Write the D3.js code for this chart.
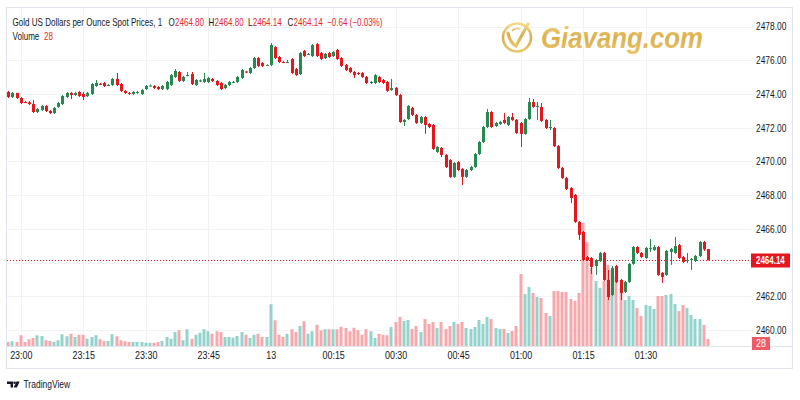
<!DOCTYPE html>
<html>
<head>
<meta charset="utf-8">
<script src="https://cdn.jsdelivr.net/npm/d3@7/dist/d3.min.js"></script>
<style>
html,body{margin:0;padding:0;background:#fff;}
svg{display:block;}
</style>
</head>
<body>
<svg id="chart" width="800" height="400"></svg>
<script>
// ---------- DATA ----------
const seriesName = "Gold US Dollars per Ounce Spot Prices, 1";
const startTime = new Date(2024, 7, 12, 22, 57); // first 1-minute candle
const opens = [
2474.12,2473.82,2474.06,2473.76,2473.52,2473.50,2473.40,2472.93,2473.05,2473.29,
2472.99,2472.87,2473.23,2473.40,2473.82,2474.06,2473.94,2474.12,2474.00,2473.88,
2474.00,2474.47,2474.60,2474.65,2474.52,2474.53,2474.89,2474.59,2474.18,2474.06,
2474.00,2474.06,2474.00,2474.29,2474.50,2474.47,2474.41,2474.29,2474.29,2474.53,
2475.01,2475.30,2474.77,2475.10,2475.18,2474.53,2474.77,2474.71,2474.71,2474.89,
2474.77,2474.65,2474.35,2474.53,2474.71,2474.71,2474.95,2475.33,2475.24,2475.54,
2476.13,2475.84,2475.70,2475.72,2476.78,2476.19,2475.89,2475.88,2476.07,2475.48,
2475.18,2476.55,2476.37,2476.25,2476.96,2476.43,2476.13,2476.43,2476.25,2476.61,
2476.13,2475.72,2475.54,2475.30,2475.24,2475.24,2475.01,2474.65,2474.65,2475.01,
2474.83,2474.71,2474.23,2474.35,2473.94,2472.34,2472.51,2473.17,2472.75,2472.28,
2472.63,2472.22,2472.16,2470.56,2470.80,2470.38,2470.08,2469.08,2469.96,2469.55,
2469.08,2469.49,2469.67,2470.44,2471.15,2472.04,2472.93,2472.10,2472.22,2472.46,
2472.16,2472.63,2472.46,2472.28,2471.63,2472.51,2473.52,2473.23,2473.23,2472.46,
2471.98,2471.98,2470.91,2469.61,2469.02,2468.42,2468.01,2466.41,2465.81,2464.33,
2464.27,2463.80,2464.09,2464.57,2462.97,2462.08,2463.80,2462.97,2462.26,2462.85,
2463.92,2464.92,2464.57,2464.27,2464.81,2464.75,2464.92,2463.38,2463.27,2464.63,
2464.57,2465.04,2464.33,2464.09,2464.15,2464.09,2464.39,2465.22,2464.80];
const highs = [
2474.18,2474.12,2474.06,2473.82,2473.58,2473.58,2473.64,2473.17,2473.34,2473.34,
2473.05,2473.23,2473.52,2473.94,2474.12,2474.12,2474.12,2474.18,2474.12,2474.12,
2474.65,2474.83,2474.65,2474.71,2474.59,2474.95,2475.24,2474.65,2474.23,2474.12,
2474.18,2474.18,2474.29,2474.53,2474.56,2474.53,2474.47,2474.53,2474.77,2475.18,
2475.48,2475.36,2475.07,2475.30,2475.30,2474.89,2474.86,2475.24,2475.01,2474.95,
2474.83,2474.71,2474.59,2474.77,2474.77,2475.07,2475.48,2475.36,2475.60,2476.19,
2476.19,2475.89,2475.75,2477.02,2476.84,2476.25,2475.95,2476.01,2476.13,2475.54,
2476.49,2476.61,2476.43,2476.96,2477.02,2476.49,2476.43,2476.49,2476.55,2476.67,
2476.19,2475.78,2475.60,2475.36,2475.30,2475.30,2475.07,2474.77,2475.18,2475.07,
2474.89,2474.77,2474.89,2474.41,2474.00,2472.51,2473.34,2473.23,2472.81,2472.69,
2472.69,2472.28,2472.22,2470.91,2470.85,2470.44,2470.14,2469.96,2470.02,2469.61,
2469.55,2469.73,2470.50,2471.21,2472.10,2473.11,2472.99,2472.34,2472.40,2472.87,
2472.69,2472.87,2472.51,2472.34,2472.57,2473.76,2473.70,2473.52,2473.46,2472.51,
2472.46,2472.04,2470.97,2469.67,2469.08,2468.48,2468.07,2466.47,2465.87,2464.39,
2464.33,2464.21,2464.63,2464.63,2463.56,2463.80,2463.86,2463.03,2462.91,2463.97,
2464.98,2464.98,2464.63,2464.92,2465.40,2465.04,2464.98,2463.44,2464.75,2464.87,
2465.52,2465.10,2464.39,2464.57,2464.27,2464.45,2465.28,2465.28,2464.80];
const lows = [
2473.76,2473.76,2473.70,2473.40,2473.46,2473.34,2472.87,2472.87,2472.99,2472.93,
2472.81,2472.81,2473.17,2473.34,2473.76,2473.70,2473.88,2473.82,2473.64,2473.82,
2473.94,2474.41,2474.53,2474.41,2474.47,2474.47,2474.47,2474.12,2474.00,2473.94,
2473.94,2474.00,2473.94,2474.23,2474.44,2474.29,2474.23,2474.23,2474.23,2474.47,
2474.95,2474.71,2474.71,2475.05,2474.53,2474.47,2474.71,2474.65,2474.65,2474.71,
2474.47,2474.23,2474.29,2474.47,2474.65,2474.65,2474.89,2475.24,2475.18,2475.48,
2475.60,2475.60,2475.65,2475.66,2476.07,2475.84,2475.84,2475.84,2475.18,2475.07,
2475.12,2476.19,2476.31,2476.19,2476.19,2476.01,2476.07,2476.13,2476.19,2476.01,
2475.60,2475.36,2475.24,2474.95,2475.12,2474.95,2474.59,2474.59,2474.59,2474.65,
2474.59,2474.12,2474.18,2473.88,2472.28,2472.10,2472.46,2472.69,2472.22,2472.22,
2471.63,2471.98,2470.68,2470.50,2470.26,2469.61,2469.02,2469.02,2469.43,2468.60,
2469.02,2469.43,2469.61,2470.38,2471.09,2471.98,2471.98,2472.04,2472.16,2472.22,
2472.10,2472.40,2471.63,2470.85,2471.57,2472.46,2473.17,2472.46,2472.34,2471.92,
2471.86,2470.85,2469.55,2468.96,2468.30,2467.53,2466.35,2465.34,2464.09,2464.09,
2463.32,2463.27,2464.03,2462.91,2461.78,2462.02,2462.79,2461.78,2462.20,2462.79,
2463.86,2464.51,2464.27,2464.21,2464.63,2464.69,2463.21,2462.79,2463.21,2463.86,
2464.51,2464.21,2463.97,2463.97,2463.56,2464.03,2464.33,2464.69,2464.14];
const closes = [
2473.82,2474.06,2473.76,2473.46,2473.49,2473.40,2472.93,2473.11,2473.29,2472.99,
2472.87,2473.17,2473.46,2473.88,2474.06,2473.94,2474.06,2473.88,2473.82,2474.06,
2474.59,2474.65,2474.59,2474.47,2474.53,2474.89,2474.53,2474.18,2474.06,2474.03,
2474.12,2474.12,2474.23,2474.47,2474.50,2474.35,2474.29,2474.47,2474.71,2475.12,
2475.36,2474.77,2475.01,2475.12,2474.59,2474.83,2474.80,2474.89,2474.95,2474.77,
2474.53,2474.29,2474.53,2474.71,2474.71,2475.01,2475.42,2475.30,2475.54,2476.13,
2475.66,2475.66,2475.72,2476.90,2476.13,2475.89,2475.87,2475.89,2475.24,2475.12,
2476.43,2476.25,2476.37,2476.90,2476.25,2476.07,2476.37,2476.19,2476.49,2476.07,
2475.66,2475.42,2475.30,2475.12,2475.18,2475.01,2474.65,2474.71,2475.12,2474.71,
2474.65,2474.18,2474.35,2473.94,2472.34,2472.46,2473.29,2472.75,2472.28,2472.63,
2472.16,2472.04,2470.74,2470.85,2470.38,2469.67,2469.08,2469.91,2469.49,2469.08,
2469.49,2469.67,2470.44,2471.15,2472.04,2472.93,2472.04,2472.28,2472.34,2472.28,
2472.63,2472.46,2471.68,2471.63,2472.51,2473.52,2473.23,2473.29,2472.40,2471.98,
2472.04,2470.91,2469.61,2469.02,2468.36,2467.83,2466.41,2465.64,2464.15,2464.15,
2463.74,2464.15,2464.57,2462.97,2461.96,2463.68,2462.85,2462.20,2462.85,2463.92,
2464.92,2464.57,2464.33,2464.87,2464.87,2464.92,2463.27,2463.15,2464.69,2464.81,
2464.98,2464.27,2464.03,2464.15,2464.21,2464.39,2465.22,2464.78,2464.14];
const volumes = [
16,19,16,43,16,27,32,43,40,23,
20,16,23,47,39,49,36,45,45,29,
36,43,27,20,20,47,39,23,19,16,
16,16,16,13,13,13,16,20,36,29,
56,63,23,67,29,45,53,67,59,49,
59,56,36,36,33,40,56,45,32,45,
49,36,36,167,103,45,36,49,67,56,
80,99,49,59,85,63,67,67,67,67,
77,72,59,73,63,45,67,59,32,49,
45,43,76,96,116,100,104,68,80,56,
108,88,96,72,96,68,80,96,88,96,
72,68,76,104,88,116,108,72,68,68,
52,60,80,288,208,236,212,196,192,132,
120,220,220,216,216,188,180,212,492,416,
312,260,232,260,324,304,280,232,184,200,
184,152,120,164,160,148,200,200,204,208,
168,140,164,152,124,108,108,84,28];
const gridPrices = [2460,2462,2464,2466,2468,2470,2472,2474,2476,2478];
const priceTickLabels = [2460,2462,2466,2468,2470,2472,2474,2476,2478];
const timeTickLabels = ["23:00","23:15","23:30","23:45","13","00:15","00:30","00:45","01:00","01:15","01:30"];
const firstTickTime = new Date(2024, 7, 12, 23, 0);

// ---------- STYLE ----------
const UP = "#26894f", DOWN = "#e3171d";
const VUP = "#92d4cb", VDOWN = "#f7a8ac";
const GRID = "#f0f2f6", BORDER = "#e0e3eb", TEXT = "#131722";
const FONT = "'Liberation Sans',Arial,sans-serif";

const candles = opens.map((o, i) => ({
  t: d3.timeMinute.offset(startTime, i), o, h: highs[i], l: lows[i], c: closes[i], v: volumes[i]
}));

const pane = {left: 7, right: 752, top: 8, bottom: 346};
const svg = d3.select("#chart");

const x = d3.scaleTime()
  .domain([d3.timeSecond.offset(startTime, -19), d3.timeSecond.offset(startTime, Math.round(178.56 * 60))])
  .range([pane.left, pane.right]);
const y = d3.scaleLinear().domain([2460, 2478]).range([330, 26.5]);
const yv = d3.scaleLinear().domain([0, 500]).range([pane.bottom, 221]);

const tickTimes = timeTickLabels.map((_, i) => d3.timeMinute.offset(firstTickTime, 15 * i));

// clip
const defs = svg.append("defs");
defs.append("clipPath").attr("id", "paneClip")
  .append("rect").attr("x", pane.left).attr("y", pane.top)
  .attr("width", pane.right - pane.left).attr("height", pane.bottom - pane.top);

// grid lines
const grid = svg.append("g");
grid.selectAll("line.h").data(gridPrices).join("line")
  .attr("x1", pane.left).attr("x2", pane.right)
  .attr("y1", d => Math.round(y(d)) + 0.5).attr("y2", d => Math.round(y(d)) + 0.5)
  .attr("stroke", GRID);
grid.selectAll("line.v").data(tickTimes).join("line")
  .attr("x1", d => Math.round(x(d)) + 0.5).attr("x2", d => Math.round(x(d)) + 0.5)
  .attr("y1", pane.top).attr("y2", pane.bottom)
  .attr("stroke", GRID);

// watermark
const lg = defs.append("linearGradient").attr("id", "gold").attr("x1", "0").attr("y1", "0").attr("x2", "0").attr("y2", "1");
lg.append("stop").attr("offset", "0%").attr("stop-color", "#f3d985");
lg.append("stop").attr("offset", "50%").attr("stop-color", "#d9ab45");
lg.append("stop").attr("offset", "100%").attr("stop-color", "#e8c463");
const wm = svg.append("g").attr("opacity", 0.95);
wm.append("circle").attr("cx", 517).attr("cy", 37.5).attr("r", 14)
  .attr("fill", "none").attr("stroke", "url(#gold)").attr("stroke-width", 2.6);
wm.append("path").attr("d", "M508,33 Q510,43 516,46 L528,24")
  .attr("fill", "none").attr("stroke", "url(#gold)").attr("stroke-width", 3.2).attr("stroke-linecap", "round");
wm.append("path").attr("d", "M512,31 Q515,27 520,29")
  .attr("fill", "none").attr("stroke", "url(#gold)").attr("stroke-width", 1.6);
wm.append("text").attr("transform", "translate(541,47.5) scale(0.89,1)")
  .attr("font-family", FONT).attr("font-weight", "bold").attr("font-style", "italic")
  .attr("font-size", 29).attr("fill", "url(#gold)").text("Giavang.com");

// volume bars
const plot = svg.append("g").attr("clip-path", "url(#paneClip)");
plot.append("g").selectAll("rect").data(candles).join("rect")
  .attr("x", d => Math.round(x(d.t)) - 1.5)
  .attr("width", 3)
  .attr("y", d => yv(d.v))
  .attr("height", d => pane.bottom - yv(d.v))
  .attr("fill", d => d.c >= d.o ? VUP : VDOWN);

// current price line
const last = candles[candles.length - 1];
const prev = candles[candles.length - 2];
plot.append("line")
  .attr("x1", pane.left).attr("x2", pane.right)
  .attr("y1", Math.round(y(last.c)) + 0.5).attr("y2", Math.round(y(last.c)) + 0.5)
  .attr("stroke", DOWN).attr("stroke-width", 1).attr("stroke-dasharray", "1,2");

// candles
const cg = plot.append("g").selectAll("g").data(candles).join("g");
cg.append("line")
  .attr("x1", d => Math.round(x(d.t)) + 0.5).attr("x2", d => Math.round(x(d.t)) + 0.5)
  .attr("y1", d => y(d.h)).attr("y2", d => y(d.l))
  .attr("stroke", d => d.c >= d.o ? UP : DOWN).attr("stroke-width", 1);
cg.append("rect")
  .attr("x", d => Math.round(x(d.t)) - 1)
  .attr("width", 3)
  .attr("y", d => y(Math.max(d.o, d.c)))
  .attr("height", d => Math.max(1, Math.abs(y(d.o) - y(d.c))))
  .attr("fill", d => d.c >= d.o ? UP : DOWN);

// frame
svg.append("rect").attr("x", 6.5).attr("y", 7.5).attr("width", 786).attr("height", 361)
  .attr("fill", "none").attr("stroke", BORDER);
svg.append("line").attr("x1", 6.5).attr("x2", 792.5).attr("y1", 346.5).attr("y2", 346.5).attr("stroke", BORDER);

// price axis (horizontally condensed like the original narrow font)
const AX_S = 0.8;
const yAxis = d3.axisRight(y).tickValues(priceTickLabels).tickFormat(d3.format(".2f")).tickSize(0).tickPadding(0);
const ya = svg.append("g").attr("transform", `translate(756,0) scale(${AX_S},1)`).call(yAxis);
ya.select(".domain").remove();
ya.selectAll("text").attr("fill", TEXT).attr("font-family", FONT).attr("font-size", 10.5)
  .attr("x", 0).attr("dy", "0.32em");

// time axis
const xAxis = d3.axisBottom(x).tickValues(tickTimes).tickFormat((d, i) => timeTickLabels[i]).tickSize(0).tickPadding(0);
const xa = svg.append("g").attr("transform", "translate(0,352)").call(xAxis);
xa.select(".domain").remove();
xa.selectAll("text").attr("fill", TEXT).attr("font-family", FONT).attr("font-size", 10.5).attr("dy", "0.71em")
  .attr("transform", "scale(0.85,1)")
  .attr("x", function () { return 0; });
xa.selectAll(".tick").each(function () {
  const tr = d3.select(this).attr("transform");
  d3.select(this).select("text").attr("transform", null);
  d3.select(this).attr("transform", tr + " scale(0.85,1)");
});

// last price label
const ly = Math.round(y(last.c)) + 0.5;
svg.append("rect").attr("x", 751).attr("y", ly - 7).attr("width", 39).attr("height", 14).attr("fill", DOWN);
svg.append("text").attr("transform", `translate(756,${ly}) scale(${AX_S * 0.95},1)`).attr("dy", "0.35em").attr("fill", "#fff")
  .attr("font-family", FONT).attr("font-size", 10.5).attr("font-weight", "bold")
  .text(d3.format(".2f")(last.c));

// volume label
svg.append("rect").attr("x", 752).attr("y", 337).attr("width", 18).attr("height", 13).attr("fill", "#f05a66");
svg.append("text").attr("transform", "translate(761,343.5) scale(0.85,1)").attr("dy", "0.35em").attr("text-anchor", "middle").attr("fill", "#fff")
  .attr("font-family", FONT).attr("font-size", 10.5).text(last.v);

// legend (condensed group)
const LX = 12.5;
const leg = svg.append("g").attr("font-family", FONT).attr("font-size", 10.5);
const titleT = leg.append("text").attr("x", 0).attr("y", 26).attr("fill", TEXT).text(seriesName);
const S = 150 / titleT.node().getComputedTextLength();
leg.attr("transform", `translate(${LX},0) scale(${S},1)`);
const lx = gx => (gx - LX) / S;
const f2 = d3.format(".2f");
const legColor = last.c >= last.o ? UP : "#e5262c";
[["O", last.o, 168.5], ["H", last.h, 208.5], ["L", last.l, 248], ["C", last.c, 287.5]].forEach(([k, v, xx]) => {
  const kt = leg.append("text").attr("x", lx(xx)).attr("y", 26).attr("fill", TEXT).text(k);
  const kw = kt.node().getComputedTextLength();
  leg.append("text").attr("x", lx(xx) + kw + 0.3).attr("y", 26).attr("fill", legColor).text(f2(v));
});
const chg = last.c - prev.c;
const pct = chg / prev.c * 100;
const minus = s => s.replace("-", "\u2212");
leg.append("text").attr("x", lx(327)).attr("y", 26).attr("fill", legColor)
  .text(minus(f2(chg)) + " (" + minus(f2(pct)) + "%)");
leg.append("text").attr("x", 0).attr("y", 40.5).attr("fill", TEXT).text("Volume");
leg.append("text").attr("x", lx(44)).attr("y", 40.5).attr("fill", legColor).text(last.v);

// TradingView footer
const tv = svg.append("g");
tv.append("path").attr("d", "M7,381.5 h6 v6 h-2.4 v-3.6 h-3.6 z").attr("fill", TEXT);
tv.append("circle").attr("cx", 14.6).attr("cy", 382.8).attr("r", 1.3).attr("fill", TEXT);
tv.append("path").attr("d", "M16.5,381.5 h3.2 l-2.8,6 h-3.2 z").attr("fill", TEXT);
tv.append("text").attr("transform", "translate(23.5,387.5) scale(0.85,1)").attr("fill", TEXT)
  .attr("font-family", FONT).attr("font-size", 10).text("TradingView");
</script>
</body>
</html>
